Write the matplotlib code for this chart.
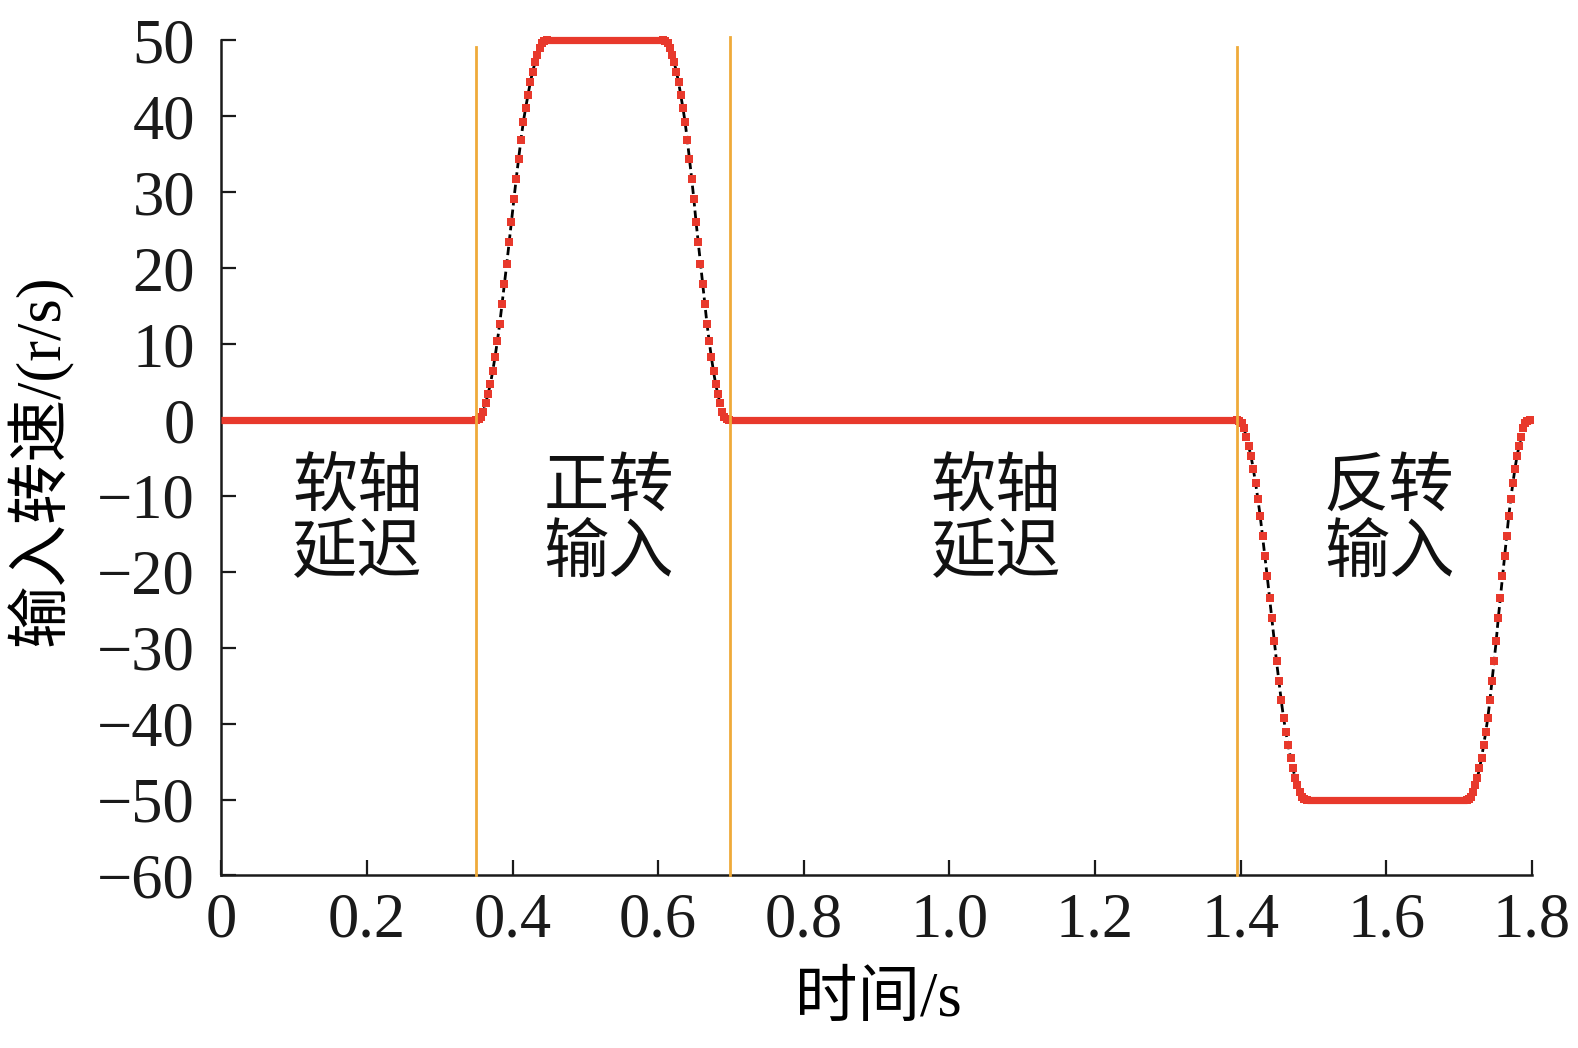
import numpy as np
import matplotlib.pyplot as plt

plt.rcParams['font.family'] = ['Liberation Serif', 'Noto Sans CJK SC']
plt.rcParams['axes.unicode_minus'] = True

# speed values (r/s) read along one acceleration edge, 0 -> 50
ramp = [0, 0.1, 0.4, 1.1, 2.2, 3.4, 4.7, 6.4, 8.3, 10.4, 12.7, 15.3, 17.9,
        20.6, 23.4, 26.1, 29.1, 31.8, 34.4, 36.9, 39.2, 41.1, 42.8, 44.5,
        45.9, 47.1, 48.1, 49.0, 49.6, 49.9, 50]

# (start, end) time of each edge and the speed values on it
edge_times = [(0.35, 0.447), (0.607, 0.697), (1.395, 1.491), (1.711, 1.797)]
edge_speeds = [ramp, ramp[::-1], [-v for v in ramp], [-v for v in ramp[::-1]]]

# constant speed holds: (start, end, speed)
holds = [(0.0, 0.35, 0), (0.447, 0.607, 50), (0.697, 1.395, 0),
         (1.491, 1.711, -50), (1.797, 1.8, 0)]

# phase boundaries and the top of each marker line
phase_x = [0.35, 0.698, 1.395]
phase_top = [49.1, 50.4, 49.2]

phase_labels = ['软轴\n延迟', '正转\n输入', '软轴\n延迟', '反转\n输入']
label_x = [0.187, 0.532, 1.064, 1.604]
label_y = -13.2

xticks = [0, 0.2, 0.4, 0.6, 0.8, 1.0, 1.2, 1.4, 1.6, 1.8]
xticklabels = ['0', '0.2', '0.4', '0.6', '0.8', '1.0', '1.2', '1.4', '1.6', '1.8']
yticks = list(range(-60, 51, 10))

red = '#E8392C'
orange = '#EFAA3A'

fig = plt.figure(figsize=(15.78, 10.48), dpi=100)
ax = fig.add_axes([0.1403, 0.1646, 0.8304, 0.7968])

# whole series for the dashed trace
t_all, v_all = [], []
segs = []
for h in holds:
    segs.append((h[0], [h[0], h[1]], [h[2], h[2]]))
for (a, b), sp in zip(edge_times, edge_speeds):
    segs.append((a, list(np.linspace(a, b, len(sp))), sp))
segs.sort(key=lambda s: s[0])
for s in segs:
    t_all += s[1]
    v_all += s[2]

ax.plot(t_all, v_all, color='black', lw=2.0, ls=(0, (3, 1.5)), zorder=2, clip_on=False)

for a, b, v in holds:
    ax.plot([a, b], [v, v], color=red, lw=5.2, solid_capstyle='butt', zorder=3, clip_on=False)
for (a, b), sp in zip(edge_times, edge_speeds):
    ax.plot(np.linspace(a, b, len(sp)), sp, ls='none', marker='s', ms=5.6,
            mew=0, color=red, zorder=3, clip_on=False)

for x, top in zip(phase_x, phase_top):
    ax.plot([x, x], [-60, top], color=orange, lw=2.0, zorder=4, clip_on=False)

for x, lab in zip(label_x, phase_labels):
    ax.text(x, label_y, lab, ha='center', va='center', fontsize=47, fontweight='light',
            family=['Noto Sans CJK SC'], linespacing=1.0, color='#111111')

ax.set_xlim(0, 1.8)
ax.set_ylim(-60, 50)
ax.set_xticks(xticks)
ax.set_xticklabels(xticklabels)
ax.set_yticks(yticks)
ax.tick_params(direction='in', length=11, width=1.6, labelsize=45, colors='#1a1a1a')
ax.tick_params(axis='y', pad=19)
ax.tick_params(axis='x', pad=12)
for sp in ['top', 'right']:
    ax.spines[sp].set_visible(False)
for sp in ['left', 'bottom']:
    ax.spines[sp].set_linewidth(1.8)
    ax.spines[sp].set_color('#1a1a1a')

fig.text(0.0253, 0.561, '输入转速/(r/s)', rotation=90, ha='center', va='center',
         fontsize=45, fontweight='light')
fig.text(0.5564, 0.045, '时间/s', ha='center', va='center', fontsize=45, fontweight='light')

fig.savefig('out.png', dpi=100)
